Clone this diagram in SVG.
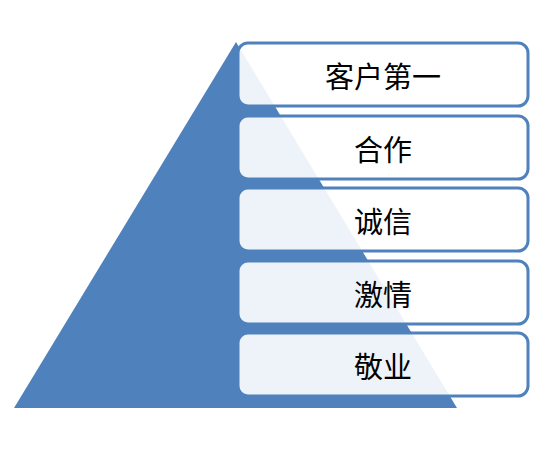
<svg xmlns="http://www.w3.org/2000/svg" width="539" height="450" viewBox="0 0 539 450">
<style>
.box{fill:#ffffff;fill-opacity:0.9;stroke:#4F81BD;stroke-width:3}
.lbl{font-family:"Noto Sans CJK SC","Liberation Sans",sans-serif;font-size:29px;fill:#000;text-anchor:middle;dominant-baseline:central}
</style>
<rect width="539" height="450" fill="#ffffff"/>
<g id="pyramid"><polygon points="236,42 14,408 457,408" fill="#4F81BD"/></g>
<g id="node1"><rect class="box" x="238" y="43" width="290" height="63" rx="10"/><text class="lbl" x="383" y="74.5">客户第一</text></g>
<g id="node2"><rect class="box" x="238" y="116" width="290" height="63" rx="10"/><text class="lbl" x="383" y="147.5">合作</text></g>
<g id="node3"><rect class="box" x="238" y="188" width="290" height="63" rx="10"/><text class="lbl" x="383" y="219.5">诚信</text></g>
<g id="node4"><rect class="box" x="238" y="261" width="290" height="63" rx="10"/><text class="lbl" x="383" y="292.5">激情</text></g>
<g id="node5"><rect class="box" x="238" y="333" width="290" height="63" rx="10"/><text class="lbl" x="383" y="364.5">敬业</text></g>
<g id="connectors"></g>
</svg>
